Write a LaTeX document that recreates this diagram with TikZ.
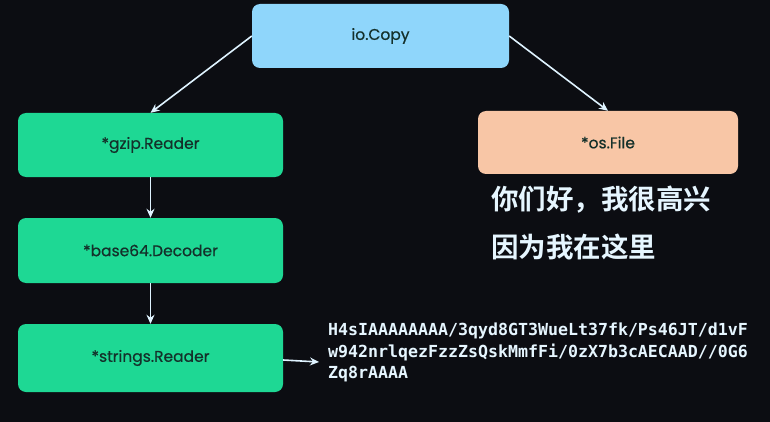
\documentclass[tikz,border=0pt]{standalone}
\usepackage{fontspec}
\setmainfont{Poppins}
\newfontfamily\labelfont{Poppins}[FakeBold=0.6]
\newfontfamily\cjkfont{Noto Sans CJK SC}[BoldFont=* Bold]
\newfontfamily\codefont{DejaVu Sans Mono}
\usetikzlibrary{arrows.meta}
\definecolor{bgcol}{HTML}{0C0D12}
\definecolor{bluebox}{HTML}{8FD6FB}
\definecolor{greenbox}{HTML}{1ED894}
\definecolor{peachbox}{HTML}{F8C6A6}
\definecolor{labeltext}{HTML}{14302A}
\definecolor{arrowcol}{HTML}{DFF3FF}
\definecolor{glowtext}{HTML}{E6F6FF}
\tikzset{
  box/.style={rectangle, rounded corners=8pt, inner sep=0pt, text=labeltext,
    font=\labelfont\fontsize{15.5}{18}\selectfont},
  link/.style={draw=arrowcol, line width=1.6pt, -{Stealth[length=9pt,width=8pt]}},
  codeline/.style={anchor=base west, inner sep=0pt, text=glowtext,
    font=\codefont\bfseries\fontsize{16.6}{20}\selectfont},
  cjkline/.style={anchor=base west, inner sep=0pt, text=glowtext,
    font=\cjkfont\bfseries\fontsize{27.5}{30}\selectfont}
}
\begin{document}
\begin{tikzpicture}[x=1pt,y=-1pt]
\fill[bgcol] (0,0) rectangle (770,422);
\useasboundingbox (0,0) rectangle (770,422);
\node[box, fill=bluebox, minimum width=257pt, minimum height=64pt] (io) at (380.5,36) {io.Copy};
\node[box, fill=greenbox, minimum width=265pt, minimum height=64pt] (gzip) at (150.5,145) {*gzip.Reader};
\node[box, fill=greenbox, minimum width=265pt, minimum height=65pt] (b64) at (150.5,250.5) {*base64.Decoder};
\node[box, fill=greenbox, minimum width=265pt, minimum height=68pt] (str) at (150.5,358) {*strings.Reader};
\node[box, fill=peachbox, minimum width=260pt, minimum height=63pt] (os) at (608,142.5) {*os.File};
\node[cjkline] (zh1) at (491,209) {你们好，我很高兴};
\node[cjkline] (zh2) at (491,257) {因为我在这里};
\node[codeline] (code1) at (328,335) {H4sIAAAAAAAA/3qyd8GT3WueLt37fk/Ps46JT/d1vF};
\node[codeline] (code2) at (328,357) {w942nrlqezFzzZsQskMmfFi/0zX7b3cAECAAD//0G6};
\node[codeline] (code3) at (328,378.5) {Zq8rAAAA};
\coordinate (codeend) at (319,362);
\draw[link] (io.west) -- (gzip.north);
\draw[link] (io.east) -- (os.north);
\draw[link] (gzip.south) -- (b64.north);
\draw[link] (b64.south) -- (str.north);
\draw[link] ([yshift=-2pt]str.east) -- (codeend);
\end{tikzpicture}
\end{document}
